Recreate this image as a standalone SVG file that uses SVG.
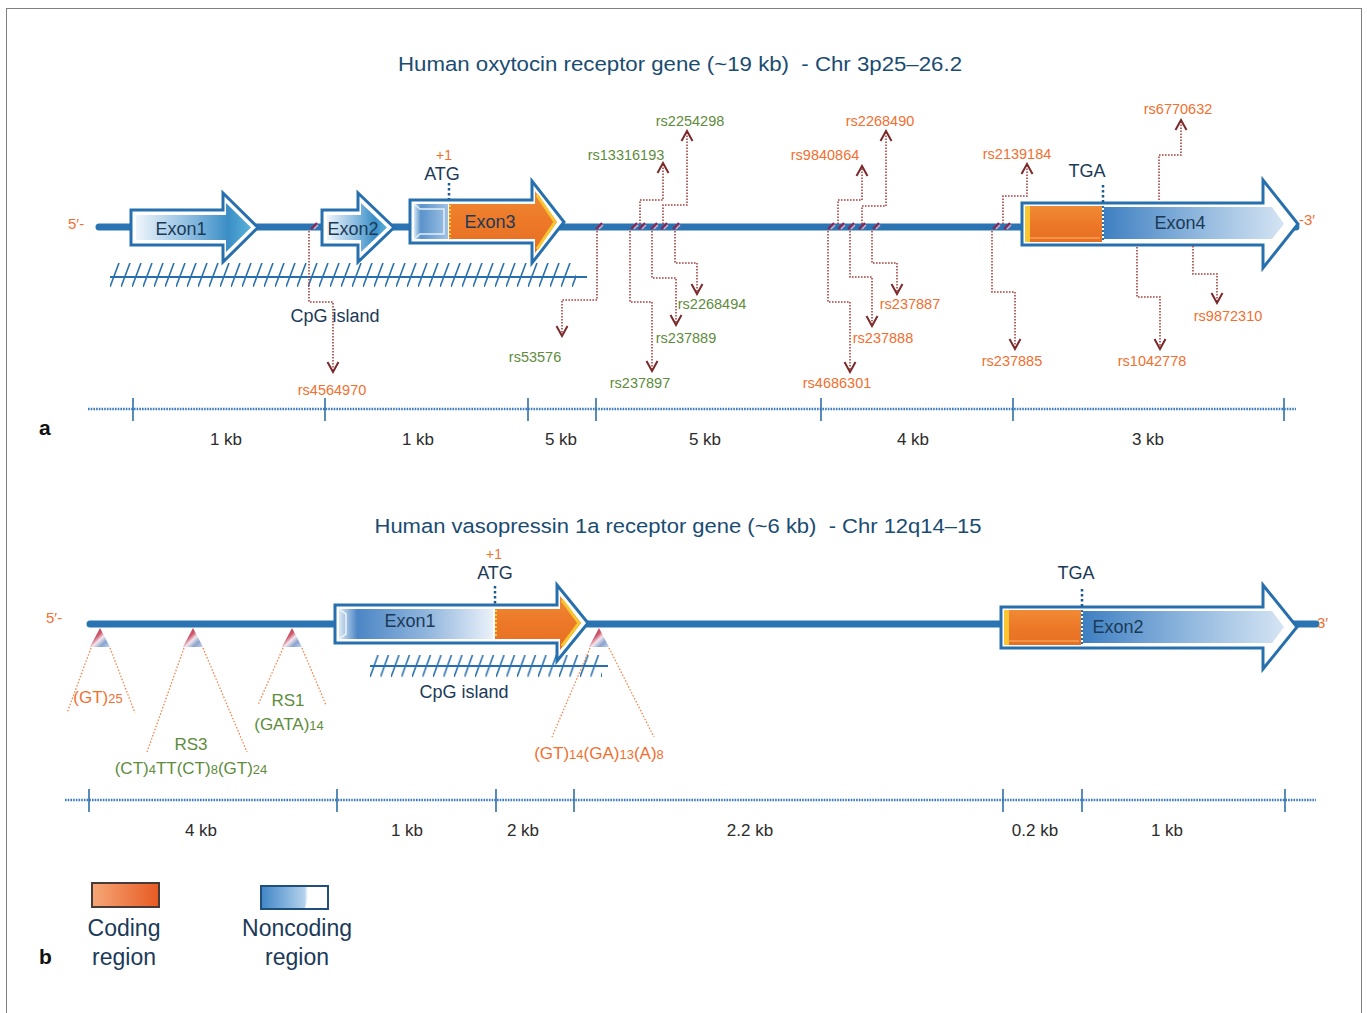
<svg xmlns="http://www.w3.org/2000/svg" width="1367" height="1013" viewBox="0 0 1367 1013">
<defs>
<style>
text{font-family:"Liberation Sans",Arial,sans-serif}
.title{font-size:20.5px;fill:#1a4c72;text-anchor:middle;white-space:pre}
.exl{font-size:18px;fill:#1b3a58;text-anchor:middle}
.nav{font-size:18px;fill:#1b3a58;text-anchor:middle}
.or{fill:#f26f2f}
.gr{fill:#5e8c3c}
.rs{font-size:14.5px;text-anchor:middle}
.kb{font-size:17px;fill:#2c2c2c;text-anchor:middle}
.lab{font-size:21px;font-weight:bold;fill:#111}
.leg{font-size:23px;fill:#1b3a58;text-anchor:middle}
.gene{stroke:#2b74b3;stroke-width:7;stroke-linecap:round;fill:none}
.outline{fill:#fff;stroke:#2870ad;stroke-width:3;stroke-linejoin:miter}
.snp{fill:none;stroke:#a8403f;stroke-width:1.6;stroke-dasharray:1.6 1.4;marker-end:url(#chev)}
.rep{fill:none;stroke:#f0854a;stroke-width:1.3;stroke-dasharray:1.5 1.8}
.scale{stroke:#3a7bbf;stroke-width:2.6;stroke-dasharray:1.6 1.1;fill:none}
.tick{stroke:#2f6fa6;stroke-width:1.6}
.dots{stroke:#1d5a8c;stroke-width:2.5;stroke-dasharray:2.5 2.5}
</style>
<marker id="chev" viewBox="-12 -7 14 14" markerWidth="14" markerHeight="14" refX="0" refY="0" orient="auto" markerUnits="userSpaceOnUse">
<path d="M-10,-5.5 L0,0 L-10,5.5" fill="none" stroke="#7a2a2a" stroke-width="2" stroke-dasharray="none"/>
</marker>
<linearGradient id="gExonA" x1="0" y1="0" x2="1" y2="0">
<stop offset="0" stop-color="#eef5fb"/>
<stop offset="0.45" stop-color="#8fbfe2"/>
<stop offset="0.8" stop-color="#3a8ec6"/>
<stop offset="1" stop-color="#5ab2d8"/>
</linearGradient>
<linearGradient id="gBox" x1="0" y1="0" x2="1" y2="0">
<stop offset="0" stop-color="#d8e8f5"/>
<stop offset="0.2" stop-color="#5a93cb"/>
<stop offset="1" stop-color="#9fc2e4"/>
</linearGradient>
<linearGradient id="gNon" x1="0" y1="0" x2="1" y2="0">
<stop offset="0" stop-color="#3f80c2"/>
<stop offset="0.55" stop-color="#94badf"/>
<stop offset="1" stop-color="#d5e4f3"/>
</linearGradient>
<linearGradient id="gNonB" x1="0" y1="0" x2="1" y2="0">
<stop offset="0" stop-color="#dbe8f5"/>
<stop offset="0.12" stop-color="#4c86c5"/>
<stop offset="0.6" stop-color="#96b9df"/>
<stop offset="1" stop-color="#eaf1f9"/>
</linearGradient>
<linearGradient id="gOr" x1="0" y1="0" x2="0" y2="1">
<stop offset="0" stop-color="#f08a35"/>
<stop offset="0.5" stop-color="#ec7828"/>
<stop offset="1" stop-color="#e86f22"/>
</linearGradient>
<linearGradient id="gLegOr" x1="0" y1="0" x2="1" y2="0">
<stop offset="0" stop-color="#f5a878"/>
<stop offset="1" stop-color="#e85a22"/>
</linearGradient>
<linearGradient id="gLegBl" x1="0" y1="0" x2="1" y2="0">
<stop offset="0" stop-color="#3f86c6"/>
<stop offset="0.65" stop-color="#b3d1ec"/>
<stop offset="0.7" stop-color="#ffffff"/>
</linearGradient>
<linearGradient id="gTri" x1="0" y1="0" x2="1" y2="1">
<stop offset="0" stop-color="#b8183a"/>
<stop offset="0.4" stop-color="#cf5a70"/>
<stop offset="0.55" stop-color="#f3e6ec"/>
<stop offset="0.75" stop-color="#8aa4cf"/>
<stop offset="1" stop-color="#c7d5ea"/>
</linearGradient>
<pattern id="hatchA" x="110" y="263" width="11" height="24" patternUnits="userSpaceOnUse">
<line x1="0" y1="24" x2="9" y2="0" stroke="#2870ad" stroke-width="1.6"/>
</pattern>
<pattern id="hatchB" x="370" y="655" width="10.5" height="22" patternUnits="userSpaceOnUse">
<line x1="0" y1="22" x2="8" y2="0" stroke="#2870ad" stroke-width="1.6"/>
</pattern>
<g id="snpMark">
<path d="M-4,2 L2,-4" stroke="#8a2850" stroke-width="2.2" fill="none"/>
<path d="M-1,2 L3,-2" stroke="#e8a8c0" stroke-width="1.4" fill="none"/>
</g>
<path id="tri" d="M0,-10 L10,9 L-10,9 Z" fill="url(#gTri)"/>
</defs>

<rect x="6.5" y="8.5" width="1355" height="1020" fill="#fff" stroke="#808080" stroke-width="1"/>

<!-- ===== Panel a: oxytocin receptor ===== -->
<g id="title-a"><text class="title" x="680" y="71" textLength="564" lengthAdjust="spacingAndGlyphs" xml:space="preserve">Human oxytocin receptor gene (~19 kb)  - Chr 3p25–26.2</text></g>

<g id="cpg-a">
<rect x="110" y="263" width="466" height="24" fill="url(#hatchA)"/>
<line x1="110" y1="277" x2="587" y2="277" stroke="#2870ad" stroke-width="2"/>
<text class="nav" x="335" y="322">CpG island</text>
</g>

<g id="gene-a">
<line class="gene" x1="99" y1="227" x2="1296" y2="227"/>
<text class="or" x="68" y="229" font-size="15">5′-</text>
<text class="or" x="1299" y="225" font-size="15">-3′</text>
</g>

<g id="exon1-a">
<path class="outline" d="M131,210 H223 V193 L258,227.5 L223,262 V245 H131 Z"/>
<path d="M136,215 H226 V203 L251,227.5 L226,252 V240 H136 Z" fill="url(#gExonA)"/>
<text class="exl" x="181" y="235">Exon1</text>
</g>

<g id="exon2-a">
<path class="outline" d="M322,210 H358 V193 L394,227.5 L358,262 V245 H322 Z"/>
<path d="M327,215 H361 V203 L387,227.5 L361,252 V240 H327 Z" fill="url(#gExonA)"/>
<text class="exl" x="353" y="235">Exon2</text>
</g>

<g id="exon3-a">
<path class="outline" d="M410,200 H532 V181 L564,222 L532,263 V243 H410 Z"/>
<rect x="414" y="204" width="34" height="35" fill="url(#gBox)"/>
<path d="M414,204 L420,209 H444 V234 H420 L414,239" fill="none" stroke="#e4eef8" stroke-width="1.5"/>
<path d="M449,204 H535 V191 L557,222 L535,253 V239 H449 Z" fill="url(#gOr)"/>
<path d="M537,195 L555,222 L537,249" fill="none" stroke="#f7c630" stroke-width="3"/>
<line x1="450" y1="205" x2="450" y2="238" stroke="#f7c630" stroke-width="2" stroke-dasharray="2 2"/>
<line class="dots" x1="449" y1="183" x2="449" y2="199"/>
<text class="exl" x="490" y="228">Exon3</text>
<text class="or" x="444" y="160" font-size="14" text-anchor="middle">+1</text>
<text class="nav" x="442" y="180">ATG</text>
</g>

<g id="exon4-a">
<path class="outline" d="M1022,203 H1263 V180 L1298,224 L1263,268 V245 H1022 Z"/>
<rect x="1025" y="206" width="77" height="36" fill="url(#gOr)"/>
<rect x="1025" y="206" width="5" height="36" fill="#f7c630"/>
<line x1="1030" y1="238" x2="1100" y2="238" stroke="#f4a055" stroke-width="1.5"/>
<path d="M1104,207 H1272 L1284,224 L1272,239 H1104 Z" fill="url(#gNon)"/>
<line x1="1104" y1="240" x2="1260" y2="240" stroke="#ffffff" stroke-width="2"/>
<line class="dots" x1="1103" y1="185" x2="1103" y2="203"/>
<line x1="1103" y1="206" x2="1103" y2="242" stroke="#2870ad" stroke-width="2" stroke-dasharray="2 2"/>
<text class="exl" x="1180" y="229">Exon4</text>
<text class="nav" x="1087" y="177">TGA</text>
</g>

<g id="snp-markers-a">
<use href="#snpMark" x="315" y="227"/>
<use href="#snpMark" x="600" y="227"/>
<use href="#snpMark" x="635" y="227"/>
<use href="#snpMark" x="643" y="227"/>
<use href="#snpMark" x="655" y="227"/>
<use href="#snpMark" x="665" y="227"/>
<use href="#snpMark" x="677" y="227"/>
<use href="#snpMark" x="832" y="227"/>
<use href="#snpMark" x="842" y="227"/>
<use href="#snpMark" x="852" y="227"/>
<use href="#snpMark" x="863" y="227"/>
<use href="#snpMark" x="877" y="227"/>
<use href="#snpMark" x="997" y="227"/>
<use href="#snpMark" x="1008" y="227"/>
</g>

<g id="connectors-a">
<polyline class="snp" points="309,231 309,302 333,302 333,372"/>
<polyline class="snp" points="597,231 597,300 562,300 562,336"/>
<polyline class="snp" points="630,231 630,302 652,302 652,371"/>
<polyline class="snp" points="652,231 652,278 676,278 676,325"/>
<polyline class="snp" points="675,231 675,263 697,263 697,294"/>
<polyline class="snp" points="640,224 640,200 663,200 663,163"/>
<polyline class="snp" points="663,224 663,205 687,205 687,131"/>
<polyline class="snp" points="828,231 828,302 850,302 850,372"/>
<polyline class="snp" points="850,231 850,277 872,277 872,326"/>
<polyline class="snp" points="872,231 872,263 897,263 897,294"/>
<polyline class="snp" points="838,224 838,200 862,200 862,166"/>
<polyline class="snp" points="862,224 862,206 886,206 886,131"/>
<polyline class="snp" points="992,231 992,292 1015,292 1015,349"/>
<polyline class="snp" points="1003,224 1003,196 1027,196 1027,164"/>
<polyline class="snp" points="1159,200 1159,155 1181,155 1181,120"/>
<polyline class="snp" points="1137,247 1137,297 1160,297 1160,349"/>
<polyline class="snp" points="1193,246 1193,274 1217,274 1217,303"/>
</g>

<g id="snp-labels-a" class="rs">
<text class="rs or" x="332" y="395">rs4564970</text>
<text class="rs gr" x="535" y="362">rs53576</text>
<text class="rs gr" x="640" y="388">rs237897</text>
<text class="rs gr" x="686" y="343">rs237889</text>
<text class="rs gr" x="712" y="309">rs2268494</text>
<text class="rs gr" x="626" y="160">rs13316193</text>
<text class="rs gr" x="690" y="126">rs2254298</text>
<text class="rs or" x="837" y="388">rs4686301</text>
<text class="rs or" x="883" y="343">rs237888</text>
<text class="rs or" x="910" y="309">rs237887</text>
<text class="rs or" x="825" y="160">rs9840864</text>
<text class="rs or" x="880" y="126">rs2268490</text>
<text class="rs or" x="1012" y="366">rs237885</text>
<text class="rs or" x="1017" y="159">rs2139184</text>
<text class="rs or" x="1178" y="114">rs6770632</text>
<text class="rs or" x="1152" y="366">rs1042778</text>
<text class="rs or" x="1228" y="321">rs9872310</text>
</g>

<g id="scale-a">
<line class="scale" x1="88" y1="409" x2="1296" y2="409"/>
<line class="tick" x1="133" y1="398" x2="133" y2="421"/>
<line class="tick" x1="325" y1="398" x2="325" y2="421"/>
<line class="tick" x1="528" y1="398" x2="528" y2="421"/>
<line class="tick" x1="596" y1="398" x2="596" y2="421"/>
<line class="tick" x1="821" y1="398" x2="821" y2="421"/>
<line class="tick" x1="1013" y1="398" x2="1013" y2="421"/>
<line class="tick" x1="1284" y1="398" x2="1284" y2="421"/>
<text class="kb" x="226" y="445">1 kb</text>
<text class="kb" x="418" y="445">1 kb</text>
<text class="kb" x="561" y="445">5 kb</text>
<text class="kb" x="705" y="445">5 kb</text>
<text class="kb" x="913" y="445">4 kb</text>
<text class="kb" x="1148" y="445">3 kb</text>
</g>
<text class="lab" x="39" y="435">a</text>

<!-- ===== Panel b: vasopressin 1a receptor ===== -->
<g id="title-b"><text class="title" x="678" y="533" textLength="607" lengthAdjust="spacingAndGlyphs" xml:space="preserve">Human vasopressin 1a receptor gene (~6 kb)  - Chr 12q14–15</text></g>

<g id="cpg-b">
<rect x="370" y="655" width="232" height="22" fill="url(#hatchB)"/>
<line x1="370" y1="666" x2="608" y2="666" stroke="#2870ad" stroke-width="2"/>
<text class="nav" x="464" y="698">CpG island</text>
</g>

<g id="gene-b">
<line class="gene" x1="90" y1="624" x2="1316" y2="624"/>
<text class="or" x="46" y="623" font-size="15">5′-</text>
<text class="or" x="1317" y="628" font-size="15">3′</text>
</g>

<g id="exon1-b">
<path class="outline" d="M335,605 H557 V585 L588,623 L557,661 V643 H335 Z"/>
<rect x="339" y="609" width="154" height="30" fill="url(#gNonB)"/>
<path d="M339,609 L346,614 V634 L339,639" fill="none" stroke="#eef4fa" stroke-width="1.5"/>
<path d="M495,609 H560 V596 L581,623 L560,650 V639 H495 Z" fill="url(#gOr)"/>
<path d="M562,600 L579,623 L562,646" fill="none" stroke="#f7c630" stroke-width="3"/>
<line x1="496" y1="610" x2="496" y2="638" stroke="#f7c630" stroke-width="2" stroke-dasharray="2 2"/>
<line class="dots" x1="495" y1="586" x2="495" y2="604"/>
<text class="exl" x="410" y="627">Exon1</text>
<text class="or" x="494" y="559" font-size="14" text-anchor="middle">+1</text>
<text class="nav" x="495" y="579">ATG</text>
</g>

<g id="exon2-b">
<path class="outline" d="M1001,607 H1263 V585 L1297,627 L1263,669 V648 H1001 Z"/>
<rect x="1004" y="610" width="77" height="35" fill="url(#gOr)"/>
<rect x="1004" y="610" width="5" height="35" fill="#f7c630"/>
<line x1="1009" y1="641" x2="1079" y2="641" stroke="#f4a055" stroke-width="1.5"/>
<path d="M1083,611 H1272 L1284,627 L1272,643 H1083 Z" fill="url(#gNon)"/>
<line x1="1083" y1="644" x2="1260" y2="644" stroke="#ffffff" stroke-width="2"/>
<line class="dots" x1="1082" y1="589" x2="1082" y2="607"/>
<line x1="1082" y1="610" x2="1082" y2="645" stroke="#2870ad" stroke-width="2" stroke-dasharray="2 2"/>
<text class="exl" x="1118" y="633">Exon2</text>
<text class="nav" x="1076" y="579">TGA</text>
</g>

<g id="repeats-b">
<use href="#tri" x="100" y="638"/>
<use href="#tri" x="193" y="638"/>
<use href="#tri" x="292" y="638"/>
<use href="#tri" x="599" y="638"/>
</g>

<g id="connectors-b">
<line class="rep" x1="91" y1="648" x2="67" y2="713"/>
<line class="rep" x1="110" y1="648" x2="135" y2="713"/>
<line class="rep" x1="184" y1="648" x2="147" y2="752"/>
<line class="rep" x1="203" y1="648" x2="247" y2="752"/>
<line class="rep" x1="283" y1="648" x2="258" y2="705"/>
<line class="rep" x1="302" y1="648" x2="326" y2="705"/>
<line class="rep" x1="590" y1="648" x2="552" y2="737"/>
<line class="rep" x1="609" y1="648" x2="654" y2="737"/>
</g>

<g id="repeat-labels-b">
<text class="or" x="98" y="703" font-size="17" text-anchor="middle">(GT)<tspan font-size="13">25</tspan></text>
<text class="gr" x="191" y="750" font-size="17" text-anchor="middle">RS3</text>
<text class="gr" x="191" y="774" font-size="17" text-anchor="middle">(CT)<tspan font-size="13">4</tspan>TT(CT)<tspan font-size="13">8</tspan>(GT)<tspan font-size="13">24</tspan></text>
<text class="gr" x="288" y="706" font-size="17" text-anchor="middle">RS1</text>
<text class="gr" x="289" y="730" font-size="17" text-anchor="middle">(GATA)<tspan font-size="13">14</tspan></text>
<text class="or" x="599" y="759" font-size="17" text-anchor="middle">(GT)<tspan font-size="13">14</tspan>(GA)<tspan font-size="13">13</tspan>(A)<tspan font-size="13">8</tspan></text>
</g>

<g id="scale-b">
<line class="scale" x1="65" y1="800" x2="1316" y2="800"/>
<line class="tick" x1="89" y1="789" x2="89" y2="812"/>
<line class="tick" x1="337" y1="789" x2="337" y2="812"/>
<line class="tick" x1="496" y1="789" x2="496" y2="812"/>
<line class="tick" x1="574" y1="789" x2="574" y2="812"/>
<line class="tick" x1="1003" y1="789" x2="1003" y2="812"/>
<line class="tick" x1="1082" y1="789" x2="1082" y2="812"/>
<line class="tick" x1="1285" y1="789" x2="1285" y2="812"/>
<text class="kb" x="201" y="836">4 kb</text>
<text class="kb" x="407" y="836">1 kb</text>
<text class="kb" x="523" y="836">2 kb</text>
<text class="kb" x="750" y="836">2.2 kb</text>
<text class="kb" x="1035" y="836">0.2 kb</text>
<text class="kb" x="1167" y="836">1 kb</text>
</g>

<g id="legend-coding">
<rect x="92" y="883" width="67" height="24" fill="url(#gLegOr)" stroke="#4a3a35" stroke-width="2"/>
<text class="leg" x="124" y="936">Coding</text>
<text class="leg" x="124" y="965">region</text>
</g>
<g id="legend-noncoding">
<rect x="261" y="886" width="67" height="23" fill="url(#gLegBl)" stroke="#1f4f7a" stroke-width="2"/>
<path d="M305,908 Q309,892 322,888 H327 V908 Z" fill="#ffffff"/>
<text class="leg" x="297" y="936">Noncoding</text>
<text class="leg" x="297" y="965">region</text>
</g>
<text class="lab" x="39" y="964">b</text>
</svg>
